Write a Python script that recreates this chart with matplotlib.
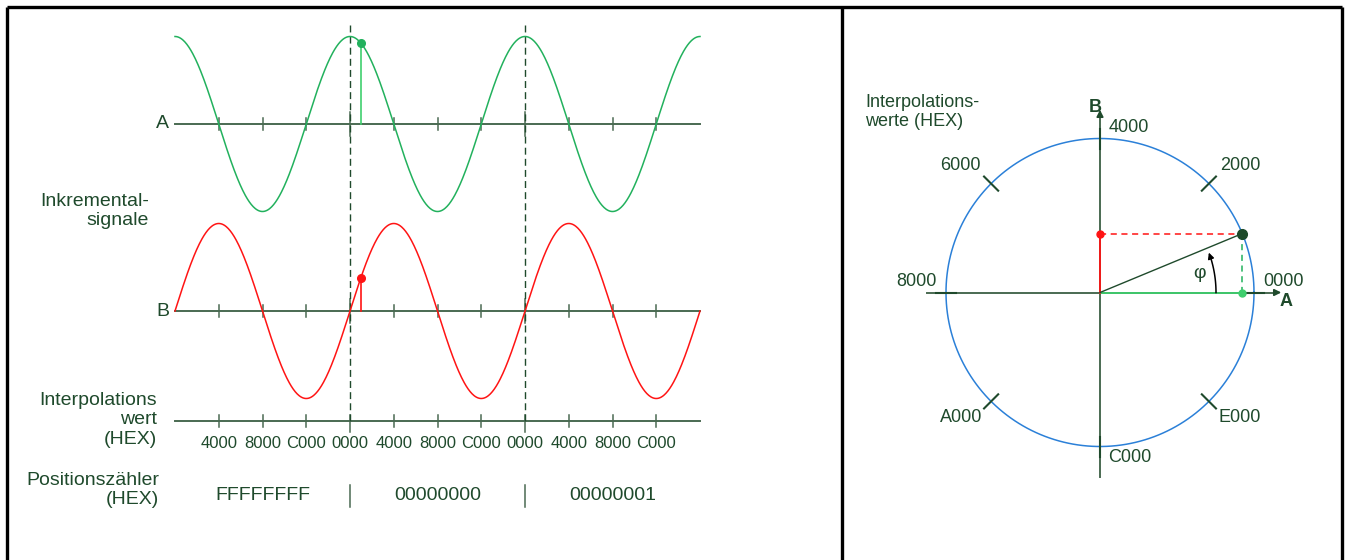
import matplotlib.pyplot as plt
import numpy as np

plt.rcParams['font.family'] = ['Liberation Sans', 'DejaVu Sans']

# data
phase_range = (-1.0, 2.0)                 # signal periods shown
interp_tick_labels = ['4000', '8000', 'C000', '0000', '4000', '8000',
                      'C000', '0000', '4000', '8000', 'C000']
first_tick_quarter = -3
counter_labels = ['FFFFFFFF', '00000000', '00000001']
counter_periods = [-1, 0, 1]
sample_value = 0x1000                     # marked interpolation value
circle_labels = ['0000', '2000', '4000', '6000', '8000', 'A000', 'C000', 'E000']

# colours
TXT = '#1f4a2c'
AXC = '#4a6a52'
GREEN = '#22b15d'
LGREEN = '#3fcf6e'
RED = '#ff1414'
BLUE = '#2b80d8'

fig = plt.figure(figsize=(13.52, 5.6), dpi=100)
ax = fig.add_axes([0, 0, 1, 1])
ax.set_xlim(0, 1352)
ax.set_ylim(560, 0)
ax.axis('off')

# frames
ax.plot([7, 1342], [7, 7], color='black', lw=2.4, solid_capstyle='butt')
for xb in (7, 842, 1342):
    ax.plot([xb, xb], [7, 560], color='black', lw=2.4, solid_capstyle='butt')

# ---------------- left panel: incremental signals ----------------
X0, PERIOD, AMP = 350, 175, 87.5
A_Y, B_Y, INT_Y = 124, 311, 421
xl, xr = X0 + phase_range[0] * PERIOD, X0 + phase_range[1] * PERIOD

p = np.linspace(phase_range[0], phase_range[1], 800)
xs = X0 + p * PERIOD

for y in (A_Y, B_Y, INT_Y):
    ax.plot([xl, xr], [y, y], color=AXC, lw=1.4, zorder=2)

tick_x = X0 + (np.arange(len(interp_tick_labels)) + first_tick_quarter) * PERIOD / 4
for i, (tx, lab) in enumerate(zip(tick_x, interp_tick_labels)):
    major = lab == '0000'
    for y in (A_Y, B_Y):
        h0, h1 = (12, 12) if major else (6, 6)
        ax.plot([tx, tx], [y - h0, y + h1], color=AXC, lw=1.1, zorder=2)
    ax.plot([tx, tx], [INT_Y - 6, INT_Y + (11 if major else 6)],
            color=AXC, lw=1.1, zorder=2)
    ax.text(tx, 443, lab, ha='center', va='center', fontsize=12, color=TXT)

# dashed period boundaries
for k in (0, 1):
    xd = X0 + k * PERIOD
    ax.plot([xd, xd], [25, INT_Y], color=TXT, lw=1.0, ls=(0, (5, 3)), zorder=3)

ax.plot(xs, A_Y - AMP * np.cos(2 * np.pi * p), color=GREEN, lw=1.1, zorder=4)
ax.plot(xs, B_Y - AMP * np.sin(2 * np.pi * p), color=RED, lw=1.1, zorder=4)

# sampled point
frac = sample_value / 0x10000
phi = 2 * np.pi * frac
sx = X0 + frac * PERIOD
ya = A_Y - AMP * np.cos(phi)
yb = B_Y - AMP * np.sin(phi)
ax.plot([sx, sx], [A_Y, ya], color=LGREEN, lw=1.2, zorder=5)
ax.plot(sx, ya, 'o', color=GREEN, ms=5.5, zorder=6)
ax.plot([sx, sx], [B_Y, yb], color=RED, lw=1.2, zorder=5)
ax.plot(sx, yb, 'o', color=RED, ms=5.5, zorder=6)

# position counter
for lab, k in zip(counter_labels, counter_periods):
    ax.text(X0 + (k + 0.5) * PERIOD, 496, lab, ha='center', va='center',
            fontsize=14, color=TXT)
for k in (0, 1):
    xd = X0 + k * PERIOD
    ax.plot([xd, xd], [485, 507], color=AXC, lw=1.1)

# left labels
ax.text(169, A_Y, 'A', ha='right', va='center', fontsize=14, color=TXT)
ax.text(169, B_Y, 'B', ha='right', va='center', fontsize=14, color=TXT)
ax.text(149, 211, 'Inkremental-\nsignale', ha='right', va='center',
        fontsize=14, color=TXT, linespacing=1.2)
ax.text(157, 420, 'Interpolations\nwert\n(HEX)', ha='right', va='center',
        fontsize=14, color=TXT, linespacing=1.2)
ax.text(159, 490, 'Positionszähler\n(HEX)', ha='right', va='center',
        fontsize=14, color=TXT, linespacing=1.2)

# ---------------- right panel: circle ----------------
CX, CY, R = 1100, 292.5, 154
t = np.linspace(0, 2 * np.pi, 400)
ax.plot(CX + R * np.cos(t), CY - R * np.sin(t), color=BLUE, lw=1.1, zorder=3)

# axes with arrows
ax.plot([927, 1276], [CY, CY], color=AXC, lw=1.4, zorder=2)
ax.plot([CX, CX], [477, 115], color=AXC, lw=1.4, zorder=2)
ax.annotate('', xy=(1284, CY), xytext=(1272, CY),
            arrowprops=dict(arrowstyle='-|>', color=TXT, lw=1.2, mutation_scale=10))
ax.annotate('', xy=(CX, 107), xytext=(CX, 119),
            arrowprops=dict(arrowstyle='-|>', color=TXT, lw=1.2, mutation_scale=10))
ax.text(1095, 108, 'B', ha='center', va='center', fontsize=13,
        fontweight='bold', color=TXT)
ax.text(1286, 301, 'A', ha='center', va='center', fontsize=13,
        fontweight='bold', color=TXT)

# radial ticks and labels on circle
label_pos = {
    '0000': (1263, 282, 'left'), '2000': (1220, 166, 'left'),
    '4000': (1109, 127, 'left'), '6000': (981, 166, 'right'),
    '8000': (937, 282, 'right'), 'A000': (982, 418, 'right'),
    'C000': (1108, 457, 'left'), 'E000': (1219, 418, 'left'),
}
for i, lab in enumerate(circle_labels):
    a = 2 * np.pi * int(lab, 16) / 0x10000
    ax.plot([CX + (R - 10) * np.cos(a), CX + (R + 10) * np.cos(a)],
            [CY - (R - 10) * np.sin(a), CY - (R + 10) * np.sin(a)],
            color=TXT, lw=1.5, zorder=4)
    lx, ly, ha = label_pos[lab]
    ax.text(lx, ly, lab, ha=ha, va='center', fontsize=13, color=TXT)

ax.text(865, 112, 'Interpolations-\nwerte (HEX)', ha='left', va='center',
        fontsize=13, color=TXT, linespacing=1.15)

# vector of the sample
px = CX + R * np.cos(phi)
py = CY - R * np.sin(phi)
ax.plot([CX, px], [CY, CY], color=LGREEN, lw=1.3, zorder=5)
ax.plot(px, CY, 'o', color=LGREEN, ms=5, zorder=6)
ax.plot([px, px], [CY, py], color=GREEN, lw=1.1, ls=(0, (4, 3)), zorder=5)
ax.plot([CX, CX], [CY, py], color=RED, lw=1.3, zorder=5)
ax.plot(CX, py, 'o', color=RED, ms=5, zorder=6)
ax.plot([CX, px], [py, py], color=RED, lw=1.1, ls=(0, (4, 3)), zorder=5)
ax.plot([CX, px], [CY, py], color=TXT, lw=1.0, zorder=5)
ax.plot(px, py, 'o', color='#1d4a2a', ms=7, zorder=7)

# angle arc
ra = 116
ta = np.linspace(0, np.radians(18), 50)
ax.plot(CX + ra * np.cos(ta), CY - ra * np.sin(ta), color='black', lw=1.1, zorder=5)
a1, a2 = np.radians(17), np.radians(21.5)
ax.annotate('', xy=(CX + ra * np.cos(a2), CY - ra * np.sin(a2)),
            xytext=(CX + ra * np.cos(a1), CY - ra * np.sin(a1)),
            arrowprops=dict(arrowstyle='-|>', color='black', lw=1.0, mutation_scale=9))
ax.text(1200, 274, 'φ', ha='center', va='center', fontsize=14, color=TXT)

fig.savefig('out.png', dpi=100)
